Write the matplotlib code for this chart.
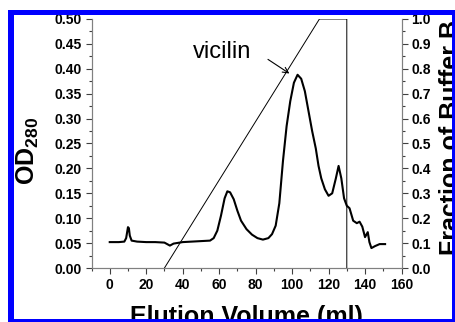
import numpy as np
import matplotlib
matplotlib.use("Agg")
import matplotlib.pyplot as plt
from matplotlib.patches import Rectangle
from matplotlib.ticker import MultipleLocator, FormatStrFormatter

plt.rcParams['font.family'] = ['Liberation Sans', 'DejaVu Sans']
plt.rcParams['mathtext.fontset'] = 'custom'
plt.rcParams['mathtext.rm'] = 'Liberation Sans'
plt.rcParams['mathtext.bf'] = 'Liberation Sans:bold'

### data ###
vol = [0, 5, 8, 9, 10, 10.5, 11, 12, 15, 20, 25, 30, 32, 33, 35, 40, 45, 50, 55,
       57, 59, 61, 63, 64.5, 66, 68, 70, 72, 75, 78, 81, 84, 87, 89, 91, 93, 95,
       97, 99, 101, 103, 105, 107, 109, 111, 113, 114.5, 116, 118, 120, 122, 124,
       125.5, 127, 128.5, 130, 131.5, 133.5, 135.5, 137, 138.5, 140, 141.5, 142.4,
       143.5, 145.5, 148, 151]
od280 = [0.052, 0.052, 0.053, 0.060, 0.082, 0.080, 0.065, 0.055, 0.053, 0.052,
         0.052, 0.051, 0.047, 0.045, 0.049, 0.052, 0.053, 0.054, 0.055,
         0.060, 0.075, 0.105, 0.140, 0.154, 0.152, 0.138, 0.115, 0.095, 0.078,
         0.067, 0.060, 0.057, 0.060, 0.068, 0.085, 0.130, 0.215,
         0.285, 0.335, 0.372, 0.388, 0.380, 0.355, 0.315, 0.275, 0.240, 0.205,
         0.180, 0.158, 0.145, 0.150, 0.180,
         0.205, 0.180, 0.140, 0.125, 0.120, 0.095, 0.090, 0.093, 0.083, 0.062,
         0.072, 0.052, 0.040, 0.044, 0.048, 0.048]

# gradient (fraction of buffer B)
grad_vol = [30, 115, 130, 130]
grad_frac = [0.0, 1.0, 1.0, 0.0]

W, H = 455, 322
fig = plt.figure(figsize=(W / 100, H / 100), dpi=100)
ax = fig.add_axes([91.5 / W, 1 - 268 / H, 310 / W, 249 / H])
ax2 = ax.twinx()

ax.plot(vol, od280, color='black', lw=1.5)
ax2.plot(grad_vol, grad_frac, color='black', lw=0.7)

ax.set_xlim(-10, 160)
ax.set_ylim(0, 0.5)
ax2.set_ylim(0, 1.0)

ax.xaxis.set_major_locator(MultipleLocator(20))
ax.xaxis.set_minor_locator(MultipleLocator(10))
ax.yaxis.set_major_locator(MultipleLocator(0.05))
ax.yaxis.set_minor_locator(MultipleLocator(0.025))
ax.yaxis.set_major_formatter(FormatStrFormatter('%.2f'))
ax2.yaxis.set_major_locator(MultipleLocator(0.1))
ax2.yaxis.set_minor_locator(MultipleLocator(0.05))
ax2.yaxis.set_major_formatter(FormatStrFormatter('%.1f'))

for a in (ax, ax2):
    a.spines['top'].set_visible(False)
    for s in a.spines.values():
        s.set_color('#808080')
        s.set_linewidth(0.8)
    a.tick_params(which='major', direction='out', length=4, width=0.8,
                  color='#404040', labelsize=10, pad=3)
    a.tick_params(which='minor', direction='out', length=2.5, width=0.8,
                  color='#404040')
ax.tick_params(axis='x', pad=3)
ax.set_xticks([0, 20, 40, 60, 80, 100, 120, 140, 160])
for lab in ax.get_xticklabels() + ax.get_yticklabels() + ax2.get_yticklabels():
    lab.set_fontweight('bold')

# peak label
ax.text(45.5, 0.434, 'vicilin', fontsize=17, ha='left', va='center')
ax.annotate('', xy=(99.8, 0.3875), xytext=(85.5, 0.422),
            arrowprops=dict(arrowstyle='->', lw=0.8, color='black'))

# axis titles (cut by the slide frame, as in the original)
fig.text(246.5 / W, -0.006, 'Elution Volume (ml)', fontsize=18,
         fontweight='bold', ha='center', va='baseline')
fig.text(14.5 / W, 1 - 151 / H, r'OD$_{\mathbf{280}}$', fontsize=18,
         fontweight='bold', rotation=90, ha='left', va='center')
fig.text(438.5 / W, 1 - 137 / H, 'Fraction of Buffer B', fontsize=18,
         fontweight='bold', rotation=90, ha='left', va='center')

# slide frame around the picture
blue = '#0000ff'
frame = [((0, 1 - 10 / H), 1, 10 / H, 'white'),
         ((0, 0), 8 / W, 1, 'white'),
         ((8 / W, 1 - 15 / H), 1, 5 / H, blue),
         ((8 / W, 0), 6 / W, 1 - 10 / H, blue),
         ((8 / W, 0), 1, 3 / H, blue),
         ((452 / W, 0), 3 / W, 1 - 10 / H, blue)]
for xy, w, h, c in frame:
    fig.add_artist(Rectangle(xy, w, h, transform=fig.transFigure,
                             facecolor=c, edgecolor='none', zorder=10))

fig.savefig('out.png', dpi=100)
